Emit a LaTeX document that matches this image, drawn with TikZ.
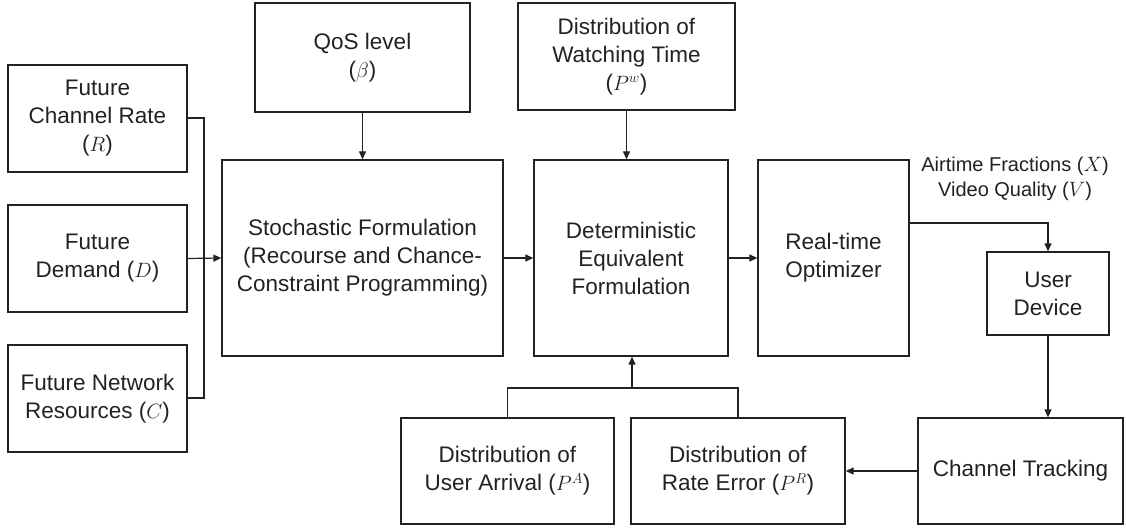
\documentclass[tikz,border=0pt]{standalone}
\usepackage{fontspec}
\setmainfont{Liberation Sans}
\usetikzlibrary{arrows.meta}
\definecolor{ink}{HTML}{222222}
\tikzset{
  box/.style={draw=ink, line width=1.3pt, align=center, inner sep=0pt,
    font=\fontsize{22.5}{28}\selectfont, text=ink},
  conn/.style={draw=ink, line width=1.2pt},
  arr/.style={conn, -{Triangle[length=8pt,width=7pt]}},
}
\begin{document}
\begin{tikzpicture}[x=1pt,y=-1pt]
\useasboundingbox (0,0) rectangle (1126,529);
% left inputs
\node[box, minimum width=179pt, minimum height=107pt] (R) at (97.5,118.5) {Future\\Channel Rate\\($R$)};
\node[box, minimum width=179pt, minimum height=107pt] (D) at (97.5,258.5) {Future\\Demand ($D$)};
\node[box, minimum width=179pt, minimum height=107pt] (C) at (97.5,398.5) {Future Network\\Resources ($C$)};
% top inputs
\node[box, minimum width=215pt, minimum height=109pt] (Q) at (362.5,57.5) {QoS level\\($\beta$)};
\node[box, minimum width=217pt, minimum height=107pt] (W) at (626.5,56.5) {Distribution of\\Watching Time\\($P^w$)};
% main row
\node[box, minimum width=281pt, minimum height=196pt] (S) at (362.5,258) {Stochastic Formulation\\(Recourse and Chance-\\Constraint Programming)};
\node[box, minimum width=194pt, minimum height=196pt] (E) at (631,258) {Deterministic\\Equivalent\\Formulation};
\node[box, minimum width=151pt, minimum height=196pt] (O) at (833.5,258) {Real-time\\Optimizer};
\node[box, minimum width=122pt, minimum height=83pt] (U) at (1048,293.5) {User\\Device};
% bottom row
\node[box, minimum width=205pt, minimum height=106pt] (T) at (1020.5,471) {Channel Tracking};
\node[box, minimum width=214pt, minimum height=106pt] (RE) at (738,471) {Distribution of\\Rate Error ($P^R$)};
\node[box, minimum width=213pt, minimum height=106pt] (UA) at (507.5,471) {Distribution of\\User Arrival ($P^A$)};
% label
\node[align=center, font=\fontsize{20}{25}\selectfont, text=ink] (L) at (1015,179) {Airtime Fractions ($X$)\\Video Quality ($V$)};
% coordinates
\coordinate (bus) at (204,259);
\coordinate (oo) at (909,223);
\coordinate (join) at (632,388);
% connectors
\draw[conn] (R.east |- 0,118) -| (bus) |- (C.east |- 0,398);
\draw[arr] (D.east) -- (S.west);
\draw[arr] (Q.south) -- (S.north);
\draw[arr] (W.south) -- (W.south |- E.north);
\draw[arr] (S.east) -- (E.west);
\draw[arr] (E.east) -- (O.west);
\draw[arr] (oo) -| (U.north);
\draw[arr] (U.south) -- (U.south |- T.north);
\draw[arr] (T.west) -- (RE.east);
\draw[conn] (UA.north) |- (join) -| (RE.north);
\draw[arr] (join) -- (join |- E.south);
\end{tikzpicture}
\end{document}
